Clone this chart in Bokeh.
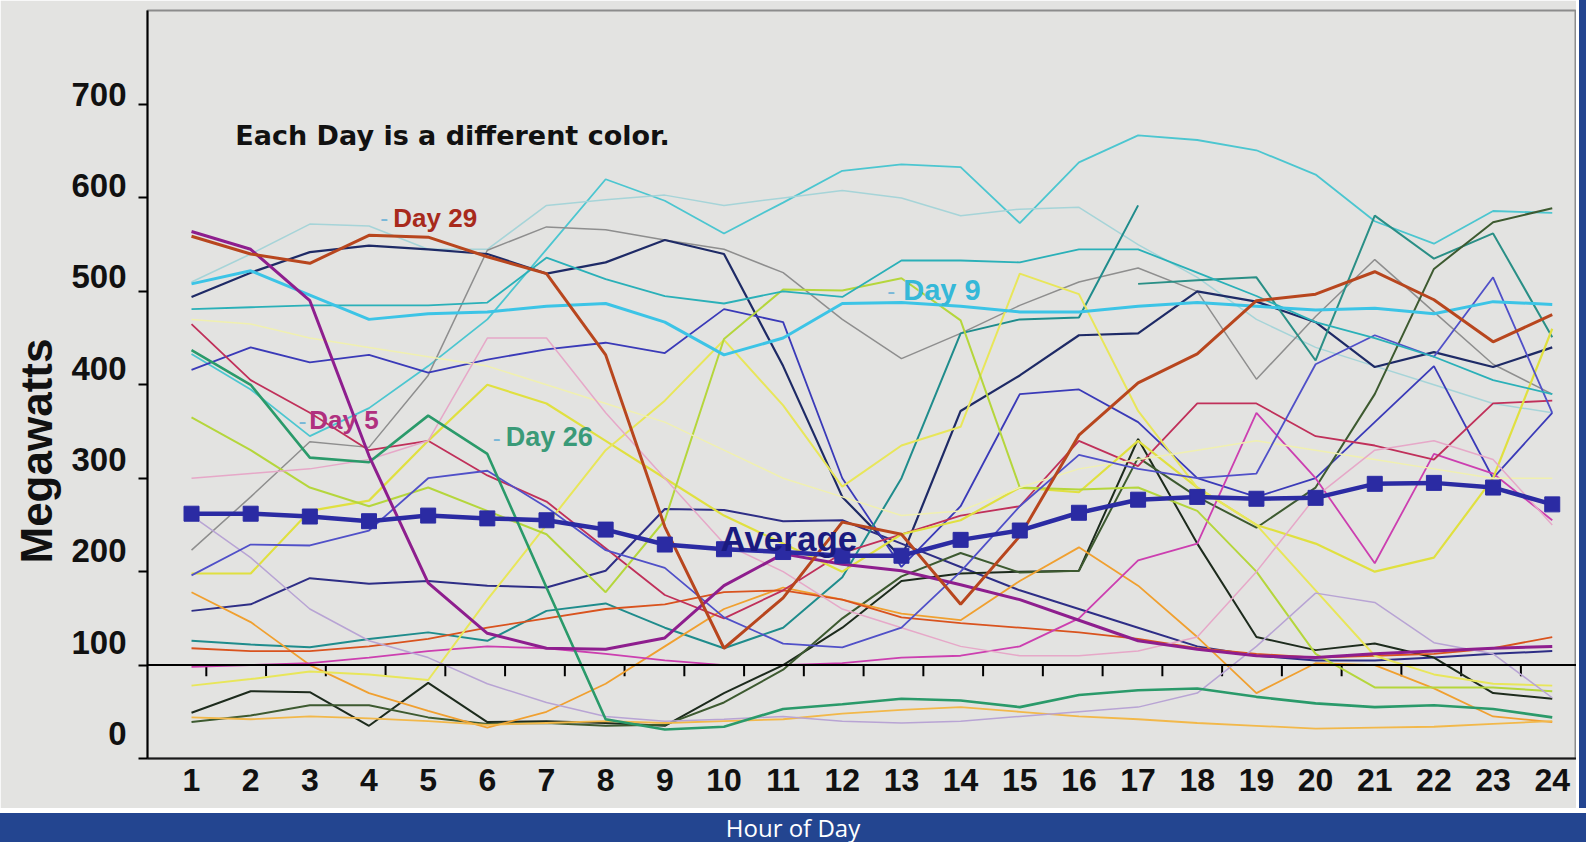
import math
from bokeh.plotting import figure
from bokeh.models import Range1d, FixedTicker, LinearAxis, Span, Title, Div
from bokeh.layouts import column, row
from bokeh.core.properties import value
from bokeh.embed import file_html
from bokeh.resources import INLINE

nan = float("nan")

# ---------------- data ----------------
hours = list(range(1, 25))
hour_labels = [str(h) for h in hours]
mw_ticks = [0, 100, 200, 300, 400, 500, 600, 700]
mw_labels = [str(t) for t in mw_ticks]

average = [262, 262, 259, 254, 260, 257, 255, 245, 229, 224, 221, 217,
           217, 234, 244, 263, 277, 280, 278, 279, 294, 295, 290, 272]
day29 = [559, 540, 530, 560, 558, 537, 519, 432, 248, 118, 172, 253,
         240, 165, 238, 346, 402, 433, 490, 497, 521, 491, 446, 475]
day5 = [564, 545, 490, 324, 188, 134, 118, 117, 129, 185, 219, 208,
        201, 186, 170, 148, 126, 117, 110, 108, 112, 115, 118, 120]
day9 = [508, 522, 496, 470, 476, 478, 484, 487, 467, 432, 450, 487,
        488, 484, 478, 478, 484, 488, 484, 480, 482, 476, 489, 486]
day26 = [437, 400, 322, 317, 367, 326, 183, 42, 31, 34, 53, 58,
         64, 62, 55, 68, 73, 75, 66, 59, 55, 57, 53, 44]

other_days = [
    [433, 395, 345, 375, 420, 470, 545, 620, 597, 562, 595, 629, 636, 633, 573, 638, 667, 662, 651, 625, 575, 551, 586, 584],
    [510, 540, 572, 570, 545, 545, 592, 598, 603, 592, 600, 608, 600, 581, 588, 590, 550, 515, 470, 440, 420, 400, 380, 370],
    [223, 280, 339, 333, 410, 544, 569, 566, 555, 545, 520, 470, 428, 455, 485, 510, 525, 500, 406, 473, 534, 478, 422, 390],
    [494, 520, 542, 549, 545, 540, 519, 531, 555, 540, 420, 280, 215, 372, 410, 453, 455, 500, 489, 467, 419, 435, 419, 440],
    [158, 165, 193, 187, 190, 185, 183, 201, 267, 266, 254, 255, 230, 205, 180, 160, 140, 120, 110, 105, 105, 108, 112, 115],
    [416, 440, 424, 432, 413, 427, 438, 445, 434, 481, 467, 300, 205, 270, 390, 395, 360, 300, 280, 300, 360, 420, 300, 370],
    [126, 122, 119, 128, 135, 126, 158, 166, 140, 118, 140, 194, 300, 455, 470, 472, 592, nan, nan, nan, nan, nan, nan, nan],
    [nan, nan, nan, nan, nan, nan, nan, nan, nan, nan, nan, nan, nan, nan, nan, nan, 508, 512, 515, 426, 581, 535, 562, 451],
    [49, 72, 71, 35, 81, 39, 40, 38, 35, 70, 100, 140, 190, 198, 200, 201, 342, 230, 130, 116, 123, 108, 70, 64],
    [39, 46, 57, 57, 44, 37, 38, 35, 36, 60, 95, 150, 195, 220, 199, 201, 322, 280, 247, 290, 390, 524, 574, 589],
    [178, 146, 100, 70, 51, 33, 50, 80, 120, 160, 183, 170, 155, 148, 190, 226, 185, 130, 70, 102, 100, 75, 45, 39],
    [44, 42, 45, 43, 40, 36, 38, 40, 38, 40, 42, 48, 52, 55, 50, 45, 42, 38, 35, 32, 33, 34, 37, 40],
    [118, 115, 115, 120, 128, 140, 150, 160, 165, 178, 180, 170, 151, 145, 140, 135, 128, 118, 112, 108, 110, 112, 118, 130],
    [98, 100, 102, 108, 115, 120, 118, 112, 105, 100, 100, 102, 108, 110, 120, 150, 212, 230, 370, 300, 209, 326, 305, 255],
    [465, 405, 370, 330, 340, 303, 275, 225, 175, 150, 180, 220, 240, 260, 270, 340, 313, 380, 380, 345, 335, 320, 380, 383],
    [198, 198, 265, 276, 340, 400, 380, 340, 300, 260, 230, 200, 240, 255, 290, 285, 340, 290, 250, 230, 200, 215, 300, 460],
    [78, 85, 93, 90, 84, 170, 250, 330, 383, 448, 378, 291, 335, 355, 519, 497, 372, 290, 250, 180, 110, 90, 80, 78],
    [365, 330, 290, 270, 290, 265, 240, 178, 255, 449, 502, 501, 514, 469, 290, 288, 290, 265, 200, 112, 76, 76, 76, 72],
    [470, 465, 450, 440, 430, 420, 400, 380, 360, 330, 300, 280, 260, 265, 290, 310, 320, 330, 340, 330, 320, 310, 300, 300],
    [300, 305, 310, 320, 340, 450, 450, 370, 300, 230, 200, 160, 140, 120, 110, 110, 115, 130, 200, 280, 330, 340, 320, 250],
    [260, 215, 160, 126, 108, 80, 60, 45, 40, 42, 45, 40, 38, 40, 45, 50, 55, 70, 120, 177, 167, 124, 112, 65],
    [196, 229, 228, 244, 300, 308, 269, 223, 204, 151, 123, 119, 140, 200, 270, 325, 310, 300, 305, 422, 453, 430, 515, 370],
    [481, 483, 485, 485, 485, 488, 536, 513, 495, 487, 500, 494, 533, 533, 531, 545, 545, 520, 495, 467, 450, 430, 405, 390],
]

# annotation texts
note_text = "Each Day is a different color."
day_names = ["Day 29", "Day 9", "Day 26", "Day 5"]

# ---------------- styles ----------------
BG = "#e3e3e1"
AVG = "#2b2ba3"
BLUE = "#234590"
other_colors = ["#4cc6d0", "#a6d4d8", "#8e8e8e", "#1e2a66", "#2e2e86", "#3a3ab8",
                "#1f8c8c", "#2a8f86", "#1d2b1d", "#3d5a30", "#f0a030", "#f2b84a",
                "#d9531e", "#cc3fb0", "#c0305a", "#e0e040", "#e8e65a", "#b5d63c",
                "#f0f0b0", "#e6a8c8", "#b8a4d4", "#5050c8", "#2ab0b8"]
other_widths = [1.8, 1.5, 1.5, 2.2, 2, 1.8, 2, 2, 2, 2, 1.8, 1.8, 1.8, 1.8, 1.8,
                2.2, 2, 2, 1.5, 1.5, 1.5, 1.8, 1.8]

p = figure(width=1576, height=808,
           x_range=Range1d(0.256, 24.41), y_range=Range1d(0, 800.6),
           output_backend="svg", toolbar_location=None,
           min_border_left=147, min_border_right=0, min_border_top=10, min_border_bottom=50,
           background_fill_color=BG, border_fill_color=BG)
p.xgrid.grid_line_color = None
p.ygrid.grid_line_color = None
p.outline_line_color = "#8c8c8c"
p.outline_line_width = 2

# y axis with ticks (labels drawn by second axis)
ya = p.yaxis[0]
ya.ticker = FixedTicker(ticks=mw_ticks)
ya.major_label_overrides = {t: "" for t in mw_ticks}
ya.axis_line_color = "black"
ya.axis_line_width = 2
ya.major_tick_out = 9
ya.major_tick_in = 0
ya.major_tick_line_width = 2
ya.minor_tick_line_color = None
ya.major_label_standoff = 0

p.extra_y_ranges = {"lbl": Range1d(-27.4, 791.9)}
la = LinearAxis(y_range_name="lbl", ticker=FixedTicker(ticks=mw_ticks),
                major_label_overrides={t: l for t, l in zip(mw_ticks, mw_labels)},
                axis_line_color=None, major_tick_line_color=None, minor_tick_line_color=None,
                major_tick_out=0, major_tick_in=0, major_label_standoff=12,
                major_label_text_font="Liberation Sans", major_label_text_font_size="33px",
                major_label_text_font_style="bold", major_label_text_color="#111111")
p.add_layout(la, "left")

p.add_layout(Title(text="Megawatts", align="left", offset=195, standoff=12,
                   vertical_align="top",
                   text_font="Liberation Sans", text_font_size="44px",
                   text_font_style="bold", text_color="#111111"), "left")

xa = p.xaxis[0]
xa.ticker = FixedTicker(ticks=hours)
xa.major_label_overrides = {h: l for h, l in zip(hours, hour_labels)}
xa.axis_line_color = "#1a1a1a"
xa.axis_line_width = 2
xa.major_tick_out = 0
xa.major_tick_in = 0
xa.minor_tick_line_color = None
xa.major_label_standoff = 10
xa.major_label_text_font = "Liberation Sans"
xa.major_label_text_font_size = "32px"
xa.major_label_text_font_style = "bold"
xa.major_label_text_color = "#111111"

# horizontal reference line at 100 MW with its small tick marks
p.add_layout(Span(location=100, dimension="width", line_color="black", line_width=2))
tick_x = [h + 0.25 + 0.01 * (h - 1) for h in hours[:-1]]
p.segment(x0=tick_x, y0=[100] * len(tick_x), x1=tick_x, y1=[88] * len(tick_x),
          line_color="black", line_width=2)

for vals, c, w in zip(other_days, other_colors, other_widths):
    p.line(hours, vals, line_color=c, line_width=w)

p.line(hours, day26, line_color="#2a9a6a", line_width=2.6)
p.line(hours, day9, line_color="#3cc4e6", line_width=3)
p.line(hours, day5, line_color="#8e1e8e", line_width=3)
p.line(hours, day29, line_color="#b8461e", line_width=3)

p.line(hours, average, line_color=AVG, line_width=4.5)
p.scatter(hours, average, marker="square", size=15, fill_color=AVG, line_color=AVG)

# text annotations
p.text(x=[1.74], y=[667], text=[note_text], text_font=value("DejaVu Sans"),
       text_font_size=value("27px"), text_font_style="bold", text_color="#111111",
       text_align="left", text_baseline="middle")

name_x = [4.41, 13.03, 6.31, 2.99]
name_y = [579, 501, 344, 362]
name_colors = ["#a82a1c", "#35b8d8", "#3a9a78", "#b0307f"]
name_sizes = ["26px", "29px", "27px", "26px"]
p.text(x=name_x, y=name_y, text=day_names, text_font=value("Liberation Sans"),
       text_font_size=name_sizes, text_font_style="bold", text_color=name_colors,
       text_align="left", text_baseline="middle")
dash_x = [4.19, 12.76, 6.09, 2.81]
p.text(x=dash_x, y=name_y, text=["-"] * 4, text_font=value("Liberation Sans"),
       text_font_size=value("24px"), text_color="#7ab8d8",
       text_align="left", text_baseline="middle")

p.text(x=[9.94], y=[235.5], text=["Average"], text_font=value("Liberation Sans"),
       text_font_size=value("35px"), text_font_style="bold", text_color="#1a1a80",
       text_align="left", text_baseline="middle")

right_strip = Div(text="", width=7, height=808, margin=(0, 0, 0, 3),
                  styles={"background-color": BLUE})
band = Div(text="Hour of Day", width=1586, height=29, margin=(5, 0, 0, 0),
           styles={"background-color": BLUE, "color": "white",
                   "font-family": "Open Sans", "font-size": "24px",
                   "text-align": "center", "line-height": "29px"})

layout = column(row(p, right_strip, spacing=0), band, spacing=0)
open("out.html", "w").write(file_html(layout, INLINE))
